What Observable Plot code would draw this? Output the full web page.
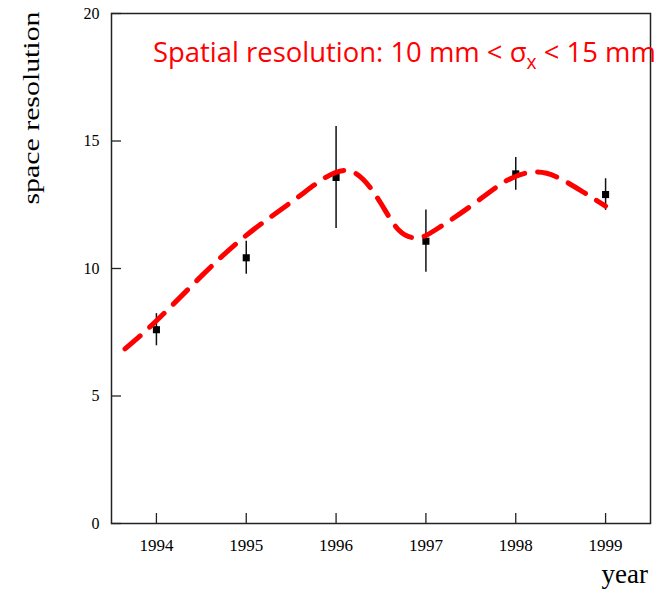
<!DOCTYPE html>
<html>
<head>
<meta charset="utf-8">
<script src="https://cdn.jsdelivr.net/npm/d3@7"></script>
<script src="https://cdn.jsdelivr.net/npm/@observablehq/plot@0.6"></script>
<style>
  body { margin: 0; background: #fff; }
  #chart { width: 669px; height: 590px; }
</style>
</head>
<body>
<div id="chart"></div>
<script>
// ---- data ----
const years = [1994, 1995, 1996, 1997, 1998, 1999];
const resolution = [7.6, 10.42, 13.57, 11.07, 13.71, 12.9];
const errors = [0.63, 0.65, 2.0, 1.22, 0.64, 0.62];

const fitYears  = [1993.65, 1994.0, 1994.5, 1995.0, 1995.5, 1995.85, 1996.1, 1996.3, 1996.5, 1996.7, 1996.9, 1997.1, 1997.5, 1997.9, 1998.2, 1998.45, 1998.75, 1999.0];
const fitValues = [6.85, 7.95, 9.7, 11.3, 12.6, 13.5, 13.85, 13.5, 12.55, 11.5, 11.2, 11.5, 12.45, 13.45, 13.78, 13.6, 13.0, 12.45];

const xTicks = [1994, 1995, 1996, 1997, 1998, 1999];
const yTicks = [0, 5, 10, 15, 20];

const titleMain = "Spatial resolution: 10 mm < ";
const titleSymbol = "σ";
const titleSub = "x";
const titleEnd = " < 15 mm";
const yLabel = "space resolution";
const xLabel = "year";

// ---- build ----
const points = years.map((year, i) => ({year, value: resolution[i], err: errors[i]}));
const fit = fitYears.map((year, i) => ({year, value: fitValues[i]}));

const W = 669, H = 590, ML = 111, MR = 19, MT = 13, MB = 67, TICK = 10;

const chart = Plot.plot({
  width: W,
  height: H,
  marginLeft: ML,
  marginRight: MR,
  marginTop: MT,
  marginBottom: MB,
  x: {domain: [1993.5, 1999.5]},
  y: {domain: [0, 20]},
  style: {fontFamily: "'Liberation Serif', 'DejaVu Serif', serif", fontSize: "15px", color: "#000", background: "#fff"},
  marks: [
    Plot.axisX(xTicks, {tickSize: 0, tickPadding: 15, tickFormat: d => String(d), label: null, fontSize: 17}),
    Plot.axisY(yTicks, {tickSize: 0, tickPadding: 12, label: null, fontSize: 16}),
    // inward ticks
    Plot.tickX(xTicks, {x: d => d, insetTop: (H - MT - MB) - TICK, stroke: "#222", strokeWidth: 1.3}),
    Plot.tickY(yTicks, {y: d => d, insetRight: (W - ML - MR) - TICK, stroke: "#222", strokeWidth: 1.3}),
    Plot.frame({stroke: "#222", strokeWidth: 1.5}),
    Plot.ruleX(points, {x: "year", y1: d => d.value - d.err, y2: d => d.value + d.err, stroke: "#111", strokeWidth: 1.5}),
    Plot.dot(points, {x: "year", y: "value", r: 4, symbol: "square", fill: "#000"}),
    Plot.line(fit, {x: "year", y: "value", curve: "natural", stroke: "#ff0000", strokeWidth: 5, strokeDasharray: "20 13"})
  ]
});

document.getElementById("chart").appendChild(chart);

const svg = d3.select(chart);

// y label
svg.append("text")
  .attr("transform", "translate(39,108) rotate(-90)")
  .attr("text-anchor", "middle")
  .attr("font-family", "'Liberation Serif', serif")
  .attr("font-size", 24)
  .attr("textLength", 193)
  .attr("lengthAdjust", "spacingAndGlyphs")
  .attr("fill", "#000")
  .text(yLabel);

// x label
svg.append("text")
  .attr("x", 648)
  .attr("y", 583)
  .attr("text-anchor", "end")
  .attr("font-family", "'Liberation Serif', serif")
  .attr("font-size", 27)
  .attr("fill", "#000")
  .text(xLabel);

// title
const t = svg.append("text")
  .attr("x", 153)
  .attr("y", 62)
  .attr("text-anchor", "start")
  .attr("font-family", "'Open Sans', 'Lato', sans-serif")
  .attr("font-size", 26)
  .attr("fill", "#ff0000");
t.append("tspan").text(titleMain);
t.append("tspan").text(titleSymbol);
t.append("tspan").attr("dy", 7).attr("font-size", "0.7em").text(titleSub);
t.append("tspan").attr("dy", -7).text(titleEnd);
// fit the title to the reference width
const w = t.node().getComputedTextLength();
const target = 503;
t.attr("font-size", 26 * target / w);
</script>
</body>
</html>
